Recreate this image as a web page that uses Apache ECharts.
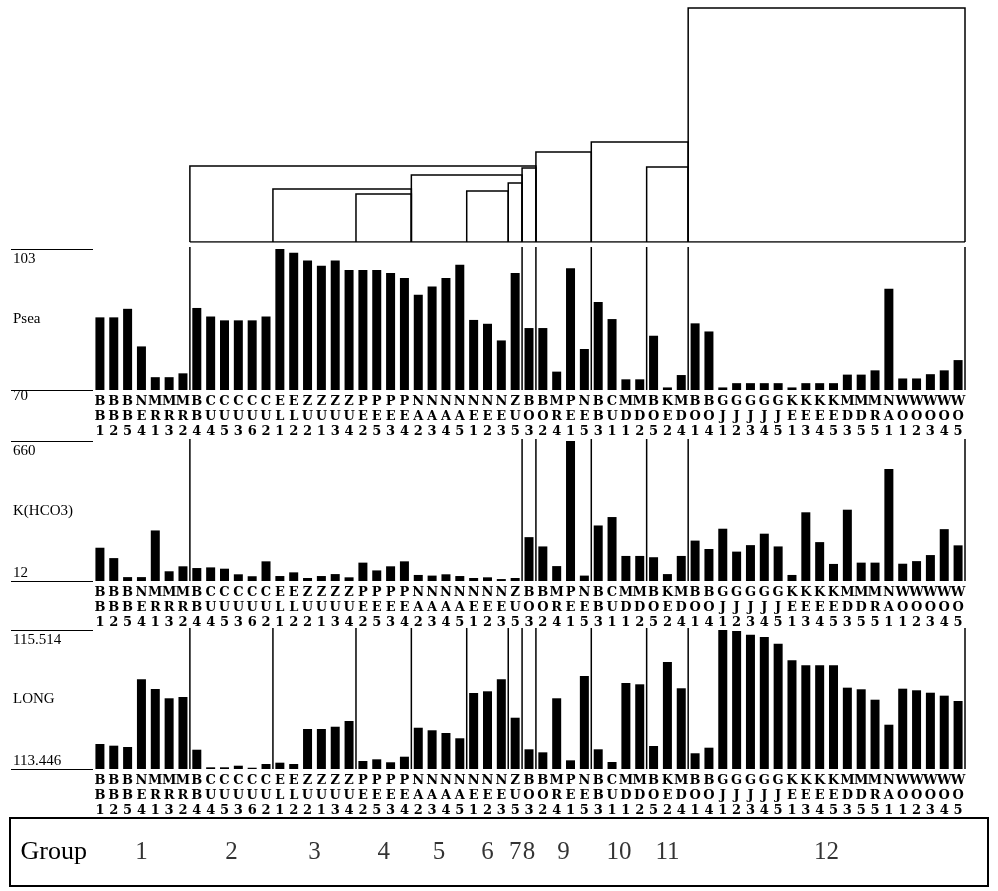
<!DOCTYPE html>
<html>
<head>
<meta charset="utf-8">
<script src="https://cdn.jsdelivr.net/npm/echarts@6/dist/echarts.min.js"></script>
<style>
html, body { margin: 0; padding: 0; background: #fff; }
#main { width: 998px; height: 891px; }
</style>
</head>
<body>
<div id="main"></div>
<script>
// sites, in dendrogram order
var sites = ['BB1','BB2','BB5','NE4','MR1','MR3','MR2','BB4','CU4','CU5','CU3','CU6','CU2',
  'EL1','EL2','ZU2','ZU1','ZU3','ZU4','PE2','PE5','PE3','PE4','NA2','NA3','NA4','NA5',
  'NE1','NE2','NE3','ZU5','BO3','BO2','MR4','PE1','NE5','BB3','CU1','MD1','MD2',
  'BO5','KE2','MD4','BO1','BO4','GJ1','GJ2','GJ3','GJ4','GJ5','KE1','KE3','KE4','KE5',
  'MD3','MD5','MR5','NA1','WO1','WO2','WO3','WO4','WO5'];

var psea = [87.0, 87.0, 89.0, 80.2, 73.0, 73.0, 73.9, 89.2, 87.2, 86.3,
  86.3, 86.3, 87.2, 103.0, 102.1, 100.3, 99.1, 100.3, 98.1, 98.1,
  98.1, 97.4, 96.2, 92.3, 94.2, 96.2, 99.3, 86.4, 85.5, 81.6,
  97.4, 84.5, 84.5, 74.3, 98.5, 79.6, 90.6, 86.6, 72.5, 72.5,
  82.7, 70.6, 73.5, 85.6, 83.7, 70.6, 71.6, 71.6, 71.6, 71.6,
  70.6, 71.6, 71.6, 71.6, 73.6, 73.6, 74.6, 93.7, 72.7, 72.7,
  73.7, 74.6, 77.0];

var khco3 = [166, 118, 30, 30, 246, 57, 80, 72, 75, 69,
  43, 34, 103, 35, 52, 26, 35, 44, 29, 97,
  61, 80, 103, 40, 37, 43, 35, 26, 29, 21,
  26, 215, 172, 81, 660, 37, 269, 308, 128, 128,
  122, 44, 128, 199, 160, 254, 148, 178, 231, 172,
  40, 330, 192, 91, 342, 97, 97, 530, 92, 104,
  132, 252, 177];

var longi = [113.818, 113.793, 113.773, 114.781, 114.636, 114.498, 114.517, 113.733, 113.471, 113.471,
  113.495, 113.465, 113.520, 113.540, 113.520, 114.041, 114.041, 114.075, 114.160, 113.565,
  113.590, 113.546, 113.629, 114.060, 114.022, 113.982, 113.903, 114.577, 114.602, 114.781,
  114.209, 113.739, 113.694, 114.498, 113.575, 114.830, 113.739, 113.550, 114.725, 114.706,
  113.788, 115.038, 114.647, 113.680, 113.763, 115.514, 115.500, 115.444, 115.410, 115.310,
  115.063, 114.989, 114.989, 114.989, 114.656, 114.632, 114.477, 114.105, 114.641, 114.617,
  114.581, 114.537, 114.458];

// axis ranges and their tick labels
var pseaRange = [70, 103];
var pseaTicks = ['70', '103'];
var khco3Range = [12, 660];
var khco3Ticks = ['12', '660'];
var longRange = [113.446, 115.514];
var longTicks = ['113.446', '115.514'];

// groups: name and index of the last site (right edge, in site slots)
var groupNames = ['1','2','3','4','5','6','7','8','9','10','11','12'];
var groupEnds = [7, 13, 19, 23, 27, 30, 31, 32, 36, 40, 43, 63];

// dendrogram joins: [left group, right group, height]
var joins = [[3, 4, 48], [5, 6, 51], [2, 4, 53], [6, 7, 59], [4, 7, 67], [7, 8, 74],
  [10, 11, 75], [1, 8, 76], [8, 9, 90], [9, 11, 100], [11, 12, 234]];
var joinMax = 234;

// group edges that get a vertical line in each panel
var pseaCuts = [1, 7, 8, 9, 10, 11, 12];
var khco3Cuts = [1, 7, 8, 9, 10, 11, 12];
var longCuts = [1, 2, 3, 4, 5, 6, 7, 8, 9, 10, 11, 12];

var chart = echarts.init(document.getElementById('main'));
var nSites = sites.length;
var L = 93, R = 33;
var serif = 'Liberation Serif';

function catAxis(grid) {
    return {
        type: 'category', gridIndex: grid, data: sites,
        axisLine: {show: false}, axisTick: {show: false},
        axisLabel: {
            interval: 0, margin: 4, color: '#000',
            fontFamily: 'DejaVu Serif', fontWeight: 'bold', fontSize: 13, lineHeight: 15,
            verticalAlign: 'top',
            formatter: function (s) { return s.split('').join('\n'); }
        }
    };
}
function hiddenX(grid) {
    return {type: 'value', gridIndex: grid, min: 0, max: nSites, show: false};
}
function valAxis(grid, range, ticks, name, loStyle) {
    return {
        type: 'value', gridIndex: grid, min: range[0], max: range[1],
        axisLine: {show: false}, splitLine: {show: false},
        axisTick: {show: true, inside: false, length: 82, customValues: range,
            lineStyle: {color: '#000', width: 1}},
        axisLabel: {
            customValues: range, margin: 80, align: 'left', verticalAlign: 'middle',
            color: '#000', fontFamily: serif, fontSize: 15,
            formatter: function (v) {
                return v === range[0] ? '{' + loStyle + '|' + ticks[0] + '}' : '{below|' + ticks[1] + '}';
            },
            rich: {
                below: {padding: [20, 0, 0, 0], fontFamily: serif, fontSize: 15, color: '#000'},
                above: {padding: [0, 0, 16, 0], fontFamily: serif, fontSize: 15, color: '#000'},
                under: {padding: [12, 0, 0, 0], fontFamily: serif, fontSize: 15, color: '#000'}
            }
        },
        name: '{n|' + name + '}', nameLocation: 'middle', nameRotate: 0, nameGap: 10,
        nameMoveOverlap: false,
        nameTextStyle: {
            rich: {n: {width: 70, align: 'left', fontFamily: serif, fontSize: 15, color: '#000'}}
        }
    };
}
function bars(data, xi, yi) {
    return {type: 'bar', xAxisIndex: xi, yAxisIndex: yi, data: data, barWidth: 9,
        itemStyle: {color: '#000'}, silent: true};
}
function cuts(list, range, xi, yi) {
    return {
        type: 'custom', xAxisIndex: xi, yAxisIndex: yi, silent: true,
        data: list.map(function (g) { return [groupEnds[g - 1]]; }),
        renderItem: function (params, api) {
            var x = api.value(0);
            var a = api.coord([x, range[0]]), b = api.coord([x, range[1]]);
            return {type: 'line', shape: {x1: a[0], y1: a[1], x2: b[0], y2: b[1] - 2},
                style: {stroke: '#000', lineWidth: 1.5}};
        }
    };
}
function grid(top, height) {
    return {left: L, right: R, top: top, height: height, containLabel: false, outerBoundsMode: 'none'};
}

var groupPts = groupNames.map(function (g, i) {
    var start = i === 0 ? 0 : groupEnds[i - 1];
    return [(start + groupEnds[i]) / 2, 0.5, g];
});

var option = {
    backgroundColor: '#fff',
    animation: false,
    grid: [grid(8, 234), grid(249, 141), grid(441, 140), grid(630, 139), grid(818, 68)],
    xAxis: [
        hiddenX(0),
        catAxis(1), hiddenX(1),
        catAxis(2), hiddenX(2),
        catAxis(3), hiddenX(3),
        hiddenX(4)
    ],
    yAxis: [
        {type: 'value', gridIndex: 0, min: 0, max: joinMax, show: false},
        valAxis(1, pseaRange, pseaTicks, 'Psea', 'under'),
        valAxis(2, khco3Range, khco3Ticks, 'K(HCO3)', 'above'),
        valAxis(3, longRange, longTicks, 'LONG', 'above'),
        {type: 'value', gridIndex: 4, min: 0, max: 1,
            axisLine: {show: false}, axisTick: {show: false}, axisLabel: {show: false}, splitLine: {show: false},
            name: 'Group', nameLocation: 'middle', nameRotate: 0, nameGap: 6, nameMoveOverlap: false,
            nameTextStyle: {fontFamily: serif, fontSize: 26, color: '#000'}}
    ],
    graphic: [{
        type: 'rect', shape: {x: 10, y: 818, width: 978, height: 68},
        style: {fill: 'none', stroke: '#000', lineWidth: 2}
    }],
    series: [
        {
            type: 'custom', xAxisIndex: 0, yAxisIndex: 0, silent: true,
            data: joins.map(function (j) { return [groupEnds[j[0] - 1], groupEnds[j[1] - 1], j[2]]; }),
            renderItem: function (params, api) {
                var x0 = api.value(0), x1 = api.value(1), h = api.value(2);
                return {type: 'polyline', shape: {points: [
                    api.coord([x0, 0]), api.coord([x0, h]), api.coord([x1, h]), api.coord([x1, 0])
                ]}, style: {stroke: '#000', lineWidth: 1.5, fill: null}};
            }
        },
        {
            type: 'line', xAxisIndex: 0, yAxisIndex: 0, silent: true, symbol: 'none',
            data: [[groupEnds[0], 0], [groupEnds[groupEnds.length - 1], 0]],
            lineStyle: {color: '#000', width: 1.5}
        },
        bars(psea, 1, 1),
        cuts(pseaCuts, pseaRange, 2, 1),
        bars(khco3, 3, 2),
        cuts(khco3Cuts, khco3Range, 4, 2),
        bars(longi, 5, 3),
        cuts(longCuts, longRange, 6, 3),
        {
            type: 'scatter', xAxisIndex: 7, yAxisIndex: 4, silent: true,
            symbolSize: 1, itemStyle: {color: 'rgba(0,0,0,0)'},
            data: groupPts,
            label: {show: true, position: 'inside', color: '#000', fontFamily: serif, fontSize: 25,
                formatter: function (p) { return p.value[2]; }}
        }
    ]
};
chart.setOption(option);
</script>
</body>
</html>
